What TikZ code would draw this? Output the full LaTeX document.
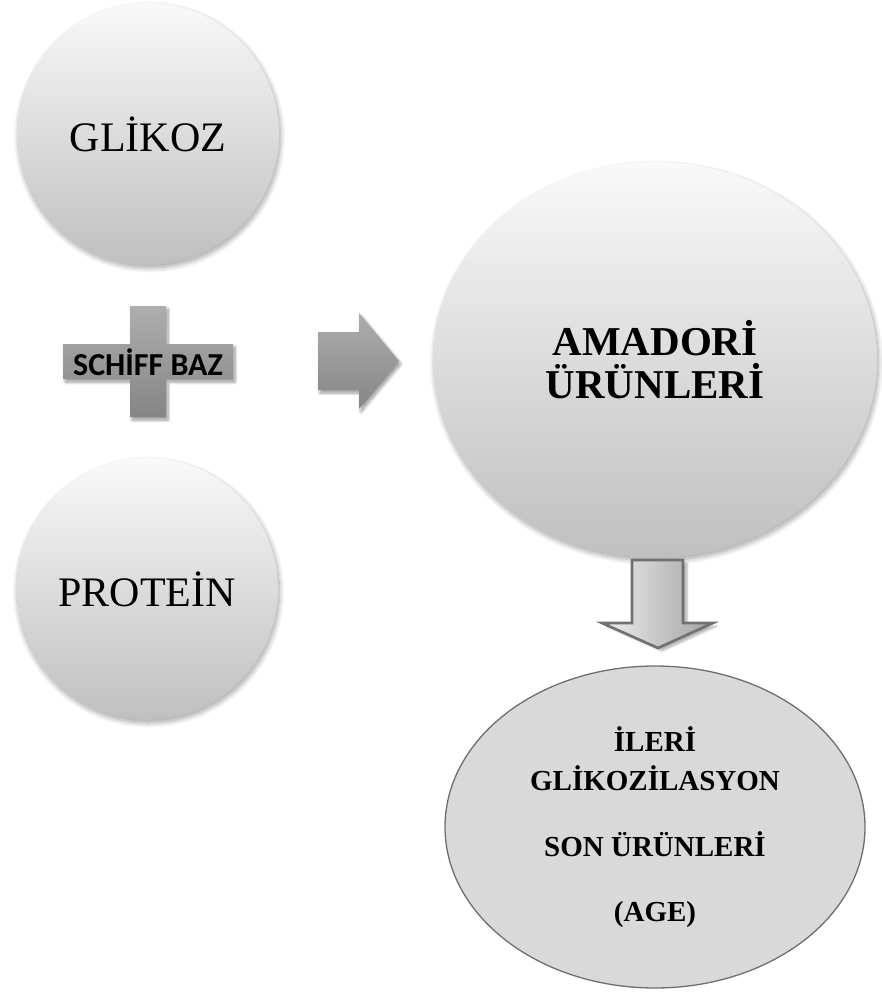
\documentclass[tikz,border=0pt]{standalone}
\usepackage{fontspec}
\setmainfont{Liberation Serif}
\newfontfamily\calfont{Carlito}
\usetikzlibrary{shapes.geometric,shadows.blur}

\definecolor{ballTop}{HTML}{F9F9F9}
\definecolor{ballBottom}{HTML}{BFBFBF}
\definecolor{blockTop}{HTML}{AEAEAE}
\definecolor{blockBottom}{HTML}{858585}
\definecolor{ageFill}{HTML}{D9D9D9}
\definecolor{ageLine}{HTML}{6E6E6E}
\definecolor{arrowLine}{HTML}{717171}

\tikzset{
  softshadow/.style={blur shadow={shadow xshift=1.5pt, shadow yshift=-3pt,
      shadow blur radius=5pt, shadow blur steps=10, shadow opacity=35}},
  ball/.style={circle, inner sep=0pt, top color=ballTop, bottom color=ballBottom,
      softshadow, font=\fontsize{42}{46}\selectfont},
  blockshape/.style={top color=blockTop, bottom color=blockBottom,
      blur shadow={shadow xshift=2pt, shadow yshift=-3pt,
      shadow blur radius=3pt, shadow blur steps=8, shadow opacity=40}},
  downarrow/.style={draw=arrowLine, line width=2.6pt, line join=miter,
      left color=ballTop!80!ballBottom, right color=ballBottom!85!black,
      blur shadow={shadow xshift=4pt, shadow yshift=-3pt,
      shadow blur radius=2pt, shadow blur steps=6, shadow opacity=30}},
}

\begin{document}
\begin{tikzpicture}[x=1pt, y=-1pt]
  \useasboundingbox (0,0) rectangle (882,993);

  % inputs
  \node[ball, minimum size=262pt] (glikoz) at (148,134) {GLİKOZ};
  \node[ball, minimum size=262pt] (protein) at (147,589) {PROTEİN};

  % plus sign carrying the Schiff base label
  \path[blockshape]
    (130,306) -- (166,306) -- (166,344) -- (233,344) -- (233,379)
    -- (166,379) -- (166,417) -- (130,417) -- (130,379) -- (63,379)
    -- (63,344) -- (130,344) -- cycle;
  \node[font=\calfont\bfseries\fontsize{32}{36}\selectfont, inner sep=0pt]
    (schiff) at (148,362) {SCHİFF BAZ};

  % block arrow towards the Amadori products
  \path[blockshape]
    (318,332) -- (359,332) -- (359,313) -- (399,361) -- (359,409)
    -- (359,390) -- (318,390) -- cycle;

  % Amadori products
  \node[ellipse, inner sep=0pt, minimum width=444pt, minimum height=396pt,
        top color=ballTop, bottom color=ballBottom, softshadow,
        align=center, font=\bfseries\fontsize{41}{43}\selectfont]
    (amadori) at (655,360) {AMADORİ\\ÜRÜNLERİ};

  % down block arrow
  \path[downarrow]
    (632,560) -- (683,560) -- (683,623) -- (713,623) -- (658,648)
    -- (602,623) -- (632,623) -- cycle;

  % advanced glycation end products
  \node[ellipse, inner sep=0pt, minimum width=420pt, minimum height=322pt,
        fill=ageFill, draw=ageLine, line width=1.3pt,
        align=center, font=\bfseries\fontsize{29}{39}\selectfont]
    (age) at (655,827) {İLERİ\\GLİKOZİLASYON\\[27pt]SON ÜRÜNLERİ\\[26pt](AGE)};
\end{tikzpicture}
\end{document}
